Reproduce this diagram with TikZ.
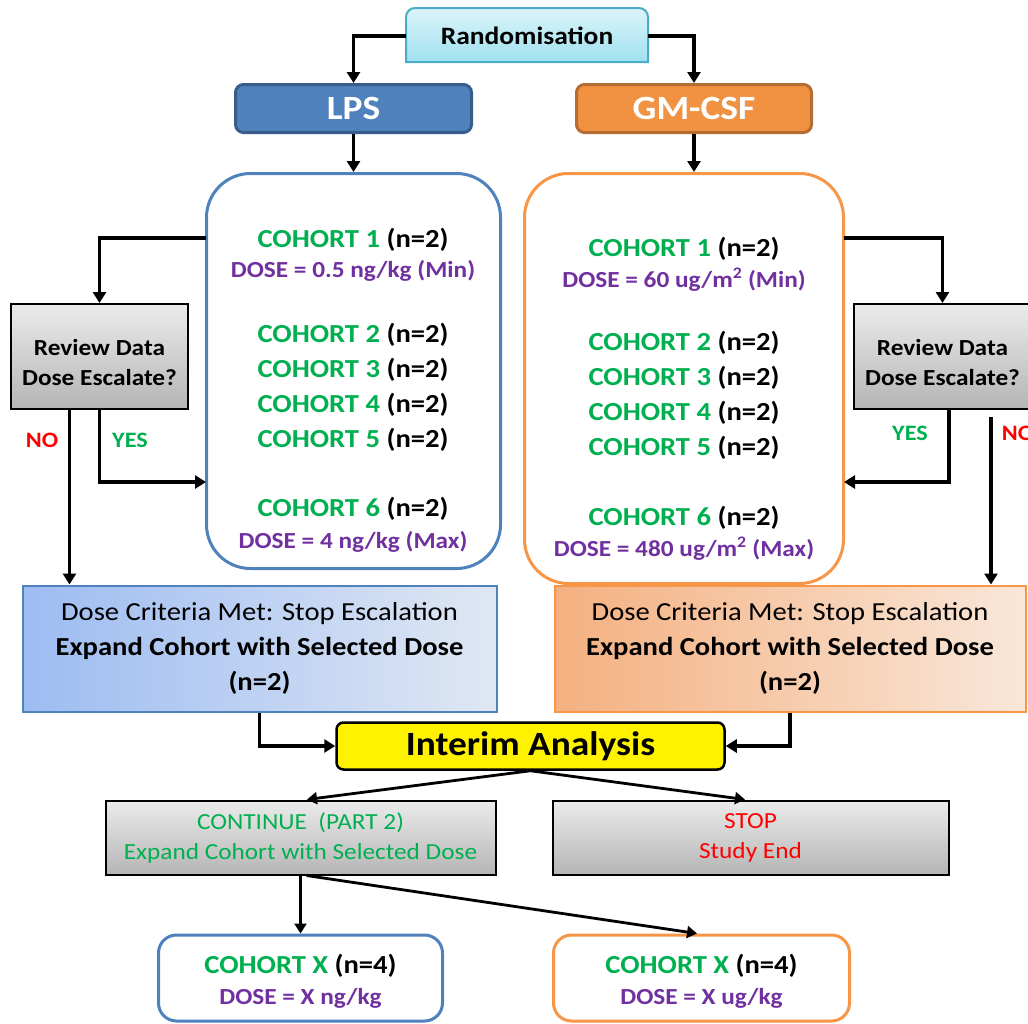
\documentclass[tikz,border=0pt]{standalone}
\usepackage{fontspec}
\setmainfont{Carlito}[FakeStretch=1.1]
\usetikzlibrary{arrows.meta,calc}
\definecolor{cgreen}{HTML}{00B050}
\definecolor{cpurple}{HTML}{7030A0}
\definecolor{cred}{HTML}{FF0000}
\definecolor{cblue}{HTML}{4F81BD}
\definecolor{cbluedark}{HTML}{385D8A}
\definecolor{corange}{HTML}{F79646}
\definecolor{corangefill}{HTML}{F09242}
\definecolor{corangedark}{HTML}{B66D31}
\definecolor{ccyanborder}{HTML}{4BACC6}
\definecolor{ccyantop}{HTML}{DCF4F9}
\definecolor{ccyanbot}{HTML}{9FE1EF}
\definecolor{cgraytop}{HTML}{EBEBEB}
\definecolor{cgraybot}{HTML}{B5B5B5}
\definecolor{cbluel}{HTML}{9DBCF2}
\definecolor{cbluer}{HTML}{DFE7F3}
\definecolor{corl}{HTML}{F4B080}
\definecolor{corr}{HTML}{F9E7D9}
\begin{document}
\begin{tikzpicture}[x=1pt,y=-1pt,
  arr/.style={line width=3.2pt,-{Triangle[width=13pt,length=11pt]}},
  arrthin/.style={line width=2.8pt,-{Triangle[width=12pt,length=10pt]}},
  txt/.style={inner sep=0pt,align=center},
  ch/.style={txt,font=\fontsize{26}{30}\selectfont\bfseries},
  ds/.style={txt,font=\fontsize{23}{27}\selectfont\bfseries,text=cpurple},
  armbox/.style={draw,line width=3pt,rounded corners=8pt,inner sep=0pt,
     font=\fontsize{34}{38}\selectfont\bfseries,text=white},
  bigbox/.style={draw,line width=3pt,fill=white,rounded corners=44pt,inner sep=0pt},
  smallbox/.style={draw,line width=3pt,fill=white,rounded corners=18pt,inner sep=0pt},
  graybox/.style={draw=black,line width=2pt,top color=cgraytop,bottom color=cgraybot,inner sep=0pt,align=center},
  critbox/.style={line width=2pt,inner sep=0pt,align=center,font=\fontsize{26}{35}\selectfont},
  yn/.style={txt,font=\fontsize{22}{26}\selectfont\bfseries},
]
\useasboundingbox (0,0) rectangle (1028,1023);
\fill[white] (0,0) rectangle (1028,1023);

% Randomisation
\path[draw=ccyanborder,line width=2pt,top color=ccyantop,bottom color=ccyanbot]
  (406,62) [rounded corners=9pt] -- (406,8) -- (648,8) [sharp corners] -- (648,62) -- cycle;
\node[txt,font=\fontsize{25}{30}\selectfont\bfseries,minimum width=242pt,minimum height=54pt] (rand) at (527,36) {Randomisation};

% arms
\node[armbox,fill=cblue,draw=cbluedark,minimum width=236pt,minimum height=48pt] (lps) at (353.5,108.5) {LPS};
\node[armbox,fill=corangefill,draw=corangedark,minimum width=235pt,minimum height=48pt] (gm) at (694,108.5) {GM-CSF};

% cohort boxes
\node[bigbox,draw=cblue,minimum width=294pt,minimum height=395pt] (lpsbox) at (353.5,371) {};
\node[bigbox,draw=corange,minimum width=319pt,minimum height=410pt] (gmbox) at (684,378.5) {};

\node[ch] (l1) at (353,240) {\textcolor{cgreen}{COHORT 1} (n=2)};
\node[ds] (l1d) at (353,271) {DOSE = 0.5 ng/kg (Min)};
\node[ch] (l2) at (353,335) {\textcolor{cgreen}{COHORT 2} (n=2)};
\node[ch] (l3) at (353,370) {\textcolor{cgreen}{COHORT 3} (n=2)};
\node[ch] (l4) at (353,405) {\textcolor{cgreen}{COHORT 4} (n=2)};
\node[ch] (l5) at (353,440) {\textcolor{cgreen}{COHORT 5} (n=2)};
\node[ch] (l6) at (353,509) {\textcolor{cgreen}{COHORT 6} (n=2)};
\node[ds] (l6d) at (353,542) {DOSE = 4 ng/kg (Max)};

\node[ch] (g1) at (684,249) {\textcolor{cgreen}{COHORT 1} (n=2)};
\node[ds] (g1d) at (684,280) {DOSE = 60 ug/m\textsuperscript{2} (Min)};
\node[ch] (g2) at (684,343) {\textcolor{cgreen}{COHORT 2} (n=2)};
\node[ch] (g3) at (684,378) {\textcolor{cgreen}{COHORT 3} (n=2)};
\node[ch] (g4) at (684,413) {\textcolor{cgreen}{COHORT 4} (n=2)};
\node[ch] (g5) at (684,448) {\textcolor{cgreen}{COHORT 5} (n=2)};
\node[ch] (g6) at (684,518) {\textcolor{cgreen}{COHORT 6} (n=2)};
\node[ds] (g6d) at (684,549) {DOSE = 480 ug/m\textsuperscript{2} (Max)};

% review boxes
\node[graybox,minimum width=177pt,minimum height=105pt] (revL) at (99.5,356.5) {};
\node[txt,font=\fontsize{23}{30}\selectfont\bfseries] (revLt) at (99.5,363) {Review Data\\Dose Escalate?};
\node[graybox,minimum width=177pt,minimum height=105pt] (revR) at (942.5,356.5) {};
\node[txt,font=\fontsize{23}{30}\selectfont\bfseries] (revRt) at (942.5,363) {Review Data\\Dose Escalate?};

\node[yn,text=cred] (noL) at (42,440) {NO};
\node[yn,text=cgreen] (yesL) at (130,440) {YES};
\node[yn,text=cgreen] (yesR) at (910,433) {YES};
\node[yn,text=cred] (noR) at (1018,433) {NO};

% dose criteria boxes
\node[critbox,draw=cblue,left color=cbluel,right color=cbluer,minimum width=474pt,minimum height=126pt] (critL) at (259.5,648.5)
  {Dose Criteria Met: Stop Escalation\\\textbf{Expand Cohort with Selected Dose}\\\textbf{(n=2)}};
\node[critbox,draw=corange,left color=corl,right color=corr,minimum width=471pt,minimum height=126pt] (critR) at (790,648.5)
  {Dose Criteria Met: Stop Escalation\\\textbf{Expand Cohort with Selected Dose}\\\textbf{(n=2)}};

% interim
\node[draw=black,line width=2.5pt,fill=yellow,rounded corners=7pt,inner sep=0pt,minimum width=388pt,minimum height=47pt,
  font=\fontsize{34}{38}\selectfont\bfseries] (interim) at (530.5,746) {Interim Analysis};

% continue / stop
\node[graybox,minimum width=390pt,minimum height=74pt,text=cgreen,font=\fontsize{23}{30}\selectfont] (cont) at (300.5,837.5)
  {CONTINUE\ \ (PART 2)\\Expand Cohort with Selected Dose};
\node[graybox,minimum width=396pt,minimum height=74pt,text=cred,font=\fontsize{23}{30}\selectfont] (stop) at (750.5,837.5)
  {STOP\\Study End};

% bottom cohorts
\node[smallbox,draw=cblue,minimum width=284pt,minimum height=86pt] (cxL) at (300.5,978) {};
\node[ch] (cxLt) at (300.5,966) {\textcolor{cgreen}{COHORT X} (n=4)};
\node[ds] (cxLd) at (300.5,998) {DOSE = X ng/kg};
\node[smallbox,draw=corange,minimum width=296pt,minimum height=86pt] (cxR) at (701.5,978) {};
\node[ch] (cxRt) at (701.5,966) {\textcolor{cgreen}{COHORT X} (n=4)};
\node[ds] (cxRd) at (701.5,998) {DOSE = X ug/kg};

% coordinates for free ends
\coordinate (lOut) at (206,238);
\coordinate (lIn) at (206,482);
\coordinate (rOut) at (844,238);
\coordinate (rIn) at (844,482);
\coordinate (noRs) at (991,417);

% connectors
\draw[arr] (rand.west) -| (lps.north);
\draw[arr] (rand.east) -| (gm.north);
\draw[arr] (lps.south) -- (lps.south |- lpsbox.north);
\draw[arr] (gm.south) -- (gm.south |- gmbox.north);
\draw[arr] (lOut) -| (revL.north);
\draw[arr] (revL.south) |- (lIn);
\draw[arr] ([xshift=-30pt]revL.south) -- ([xshift=-30pt]revL.south |- critL.north);
\draw[arr] (rOut) -| (revR.north);
\draw[arr] ([xshift=6.5pt]revR.south) |- (rIn);
\draw[arr] (noRs) -- (noRs |- critR.north);
\draw[arr] (critL.south) |- (interim.west);
\draw[arr] (critR.south) |- (interim.east);
\draw[arrthin] (interim.south) -- ([xshift=6.5pt]cont.north);
\draw[arrthin] (interim.south) -- ([xshift=-5.5pt]stop.north);
\draw[arrthin] (cont.south) -- (cxL.north);
\draw[arrthin] ([xshift=6pt]cont.south) -- ([xshift=-4.5pt]cxR.north);
\end{tikzpicture}
\end{document}
